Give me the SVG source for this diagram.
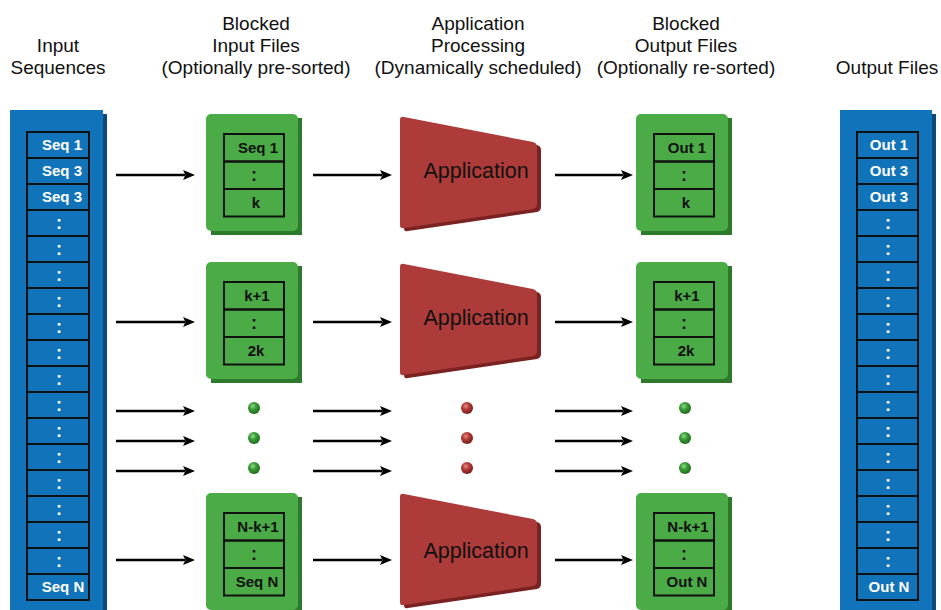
<svg xmlns="http://www.w3.org/2000/svg" width="941" height="610" viewBox="0 0 941 610">
<defs>
<style>
.hdr{font-family:"Liberation Sans",Arial,sans-serif;font-size:19px;fill:#111;text-anchor:middle}
.cw{font-family:"Liberation Sans",Arial,sans-serif;font-size:15px;font-weight:bold;fill:#fff;text-anchor:middle}
.cb{font-family:"Liberation Sans",Arial,sans-serif;font-size:15px;font-weight:bold;fill:#111;text-anchor:middle}
.col{font-size:18px}
.app{font-family:"Liberation Sans",Arial,sans-serif;font-size:21.5px;fill:#111;text-anchor:middle}
.cell{fill:none;stroke:#111;stroke-width:2}
.panel{fill:#1173ba}
.panelsh{fill:#0b4a7a}
.gbody{fill:#4bab46}
.gsh{fill:#2c7a2a}
.rbody{fill:#ad3b3a}
.rsh{fill:#7a2222}
.arr{stroke:#000;stroke-width:2.5;fill:none;marker-end:url(#ah)}
</style>
<marker id="ah" markerUnits="userSpaceOnUse" viewBox="0 0 12 10" markerWidth="12" markerHeight="10" refX="2" refY="5" orient="auto">
<path d="M0,0 L12,5 L0,10 L2.5,5 Z" fill="#000"/>
</marker>
<radialGradient id="gg" cx="0.4" cy="0.35" r="0.65">
<stop offset="0" stop-color="#8edc86"/>
<stop offset="0.45" stop-color="#3a9b36"/>
<stop offset="1" stop-color="#1f6a1d"/>
</radialGradient>
<radialGradient id="rg" cx="0.4" cy="0.35" r="0.65">
<stop offset="0" stop-color="#e88a86"/>
<stop offset="0.45" stop-color="#b23a36"/>
<stop offset="1" stop-color="#7a1e1c"/>
</radialGradient>
<g id="gblock">
<path class="gsh" d="M5,4 L96,4 L96,121 L5,121 Z"/>
<rect class="gbody" x="0" y="0" width="92" height="117" rx="5"/>
<rect class="cell" x="18" y="20" width="60" height="27.5"/>
<rect class="cell" x="18" y="47.5" width="60" height="27.5"/>
<rect class="cell" x="18" y="75" width="60" height="27.5"/>
</g>
<g id="appshape">
<path class="rsh" d="M4,7 Q4,3 8,4 L137,29 Q141,30 141,34 L141,91 Q141,95 137,96 L8,115 Q4,116 4,112 Z"/>
<path class="rbody" d="M0,4 Q0,0 4,1 L133,26 Q137,27 137,31 L137,88 Q137,92 133,93 L4,112 Q0,113 0,109 Z"/>
</g>
</defs>
<rect width="941" height="610" fill="#fff"/>

<g id="headers">
<text class="hdr" x="58" y="52">Input</text>
<text class="hdr" x="58" y="74">Sequences</text>
<text class="hdr" x="256" y="30">Blocked</text>
<text class="hdr" x="256" y="52">Input Files</text>
<text class="hdr" x="256" y="74">(Optionally pre-sorted)</text>
<text class="hdr" x="478" y="30">Application</text>
<text class="hdr" x="478" y="52">Processing</text>
<text class="hdr" x="478" y="74">(Dynamically scheduled)</text>
<text class="hdr" x="686" y="30">Blocked</text>
<text class="hdr" x="686" y="52">Output Files</text>
<text class="hdr" x="686" y="74">(Optionally re-sorted)</text>
<text class="hdr" x="887" y="74">Output Files</text>
</g>

<g id="input-sequences">
<rect class="panelsh" x="14" y="114" width="93" height="500"/>
<rect class="panel" x="10" y="110" width="93" height="505"/>
<g class="cells">
<rect class="cell" x="27" y="132" width="62" height="26"/>
<rect class="cell" x="27" y="158" width="62" height="26"/>
<rect class="cell" x="27" y="184" width="62" height="26"/>
<rect class="cell" x="27" y="210" width="62" height="26"/>
<rect class="cell" x="27" y="236" width="62" height="26"/>
<rect class="cell" x="27" y="262" width="62" height="26"/>
<rect class="cell" x="27" y="288" width="62" height="26"/>
<rect class="cell" x="27" y="314" width="62" height="26"/>
<rect class="cell" x="27" y="340" width="62" height="26"/>
<rect class="cell" x="27" y="366" width="62" height="26"/>
<rect class="cell" x="27" y="392" width="62" height="26"/>
<rect class="cell" x="27" y="418" width="62" height="26"/>
<rect class="cell" x="27" y="444" width="62" height="26"/>
<rect class="cell" x="27" y="470" width="62" height="26"/>
<rect class="cell" x="27" y="496" width="62" height="26"/>
<rect class="cell" x="27" y="522" width="62" height="26"/>
<rect class="cell" x="27" y="548" width="62" height="26"/>
<rect class="cell" x="27" y="574" width="62" height="26"/>
</g>
<text class="cw" x="62" y="150">Seq 1</text>
<text class="cw" x="62" y="176">Seq 3</text>
<text class="cw" x="62" y="202">Seq 3</text>
<text class="cw col" x="59" y="229">:</text>
<text class="cw col" x="59" y="255">:</text>
<text class="cw col" x="59" y="281">:</text>
<text class="cw col" x="59" y="307">:</text>
<text class="cw col" x="59" y="333">:</text>
<text class="cw col" x="59" y="359">:</text>
<text class="cw col" x="59" y="385">:</text>
<text class="cw col" x="59" y="411">:</text>
<text class="cw col" x="59" y="437">:</text>
<text class="cw col" x="59" y="463">:</text>
<text class="cw col" x="59" y="489">:</text>
<text class="cw col" x="59" y="515">:</text>
<text class="cw col" x="59" y="541">:</text>
<text class="cw col" x="59" y="567">:</text>
<text class="cw" x="63" y="592">Seq N</text>
</g>

<g id="output-files">
<rect class="panelsh" x="844" y="114" width="92" height="500"/>
<rect class="panel" x="840" y="110" width="92" height="505"/>
<g class="cells">
<rect class="cell" x="857" y="132" width="61" height="26"/>
<rect class="cell" x="857" y="158" width="61" height="26"/>
<rect class="cell" x="857" y="184" width="61" height="26"/>
<rect class="cell" x="857" y="210" width="61" height="26"/>
<rect class="cell" x="857" y="236" width="61" height="26"/>
<rect class="cell" x="857" y="262" width="61" height="26"/>
<rect class="cell" x="857" y="288" width="61" height="26"/>
<rect class="cell" x="857" y="314" width="61" height="26"/>
<rect class="cell" x="857" y="340" width="61" height="26"/>
<rect class="cell" x="857" y="366" width="61" height="26"/>
<rect class="cell" x="857" y="392" width="61" height="26"/>
<rect class="cell" x="857" y="418" width="61" height="26"/>
<rect class="cell" x="857" y="444" width="61" height="26"/>
<rect class="cell" x="857" y="470" width="61" height="26"/>
<rect class="cell" x="857" y="496" width="61" height="26"/>
<rect class="cell" x="857" y="522" width="61" height="26"/>
<rect class="cell" x="857" y="548" width="61" height="26"/>
<rect class="cell" x="857" y="574" width="61" height="26"/>
</g>
<text class="cw" x="889" y="150">Out 1</text>
<text class="cw" x="889" y="176">Out 3</text>
<text class="cw" x="889" y="202">Out 3</text>
<text class="cw col" x="888" y="229">:</text>
<text class="cw col" x="888" y="255">:</text>
<text class="cw col" x="888" y="281">:</text>
<text class="cw col" x="888" y="307">:</text>
<text class="cw col" x="888" y="333">:</text>
<text class="cw col" x="888" y="359">:</text>
<text class="cw col" x="888" y="385">:</text>
<text class="cw col" x="888" y="411">:</text>
<text class="cw col" x="888" y="437">:</text>
<text class="cw col" x="888" y="463">:</text>
<text class="cw col" x="888" y="489">:</text>
<text class="cw col" x="888" y="515">:</text>
<text class="cw col" x="888" y="541">:</text>
<text class="cw col" x="888" y="567">:</text>
<text class="cw" x="889" y="592">Out N</text>
</g>

<g id="in-block-1" transform="translate(206,114)">
<use href="#gblock"/>
<text class="cb" x="52" y="39">Seq 1</text>
<text class="cb col" x="48" y="67">:</text>
<text class="cb" x="50" y="94">k</text>
</g>
<g id="in-block-2" transform="translate(206,262)">
<use href="#gblock"/>
<text class="cb" x="51" y="39">k+1</text>
<text class="cb col" x="48" y="67">:</text>
<text class="cb" x="50" y="94">2k</text>
</g>
<g id="in-block-3" transform="translate(206,493)">
<use href="#gblock"/>
<text class="cb" x="52" y="39">N-k+1</text>
<text class="cb col" x="48" y="67">:</text>
<text class="cb" x="51" y="94">Seq N</text>
</g>

<g id="app-1" transform="translate(400,116)">
<use href="#appshape"/>
<text class="app" x="76" y="62">Application</text>
</g>
<g id="app-2" transform="translate(400,263)">
<use href="#appshape"/>
<text class="app" x="76" y="62">Application</text>
</g>
<g id="app-3" transform="translate(400,493)">
<use href="#appshape"/>
<text class="app" x="76" y="65">Application</text>
</g>

<g id="out-block-1" transform="translate(636,114)">
<use href="#gblock"/>
<text class="cb" x="51" y="39">Out 1</text>
<text class="cb col" x="48" y="67">:</text>
<text class="cb" x="50" y="94">k</text>
</g>
<g id="out-block-2" transform="translate(636,262)">
<use href="#gblock"/>
<text class="cb" x="51" y="39">k+1</text>
<text class="cb col" x="48" y="67">:</text>
<text class="cb" x="50" y="94">2k</text>
</g>
<g id="out-block-3" transform="translate(636,493)">
<use href="#gblock"/>
<text class="cb" x="52" y="39">N-k+1</text>
<text class="cb col" x="48" y="67">:</text>
<text class="cb" x="51" y="94">Out N</text>
</g>

<g id="dots">
<circle cx="254" cy="408" r="6" fill="url(#gg)"/>
<circle cx="254" cy="438" r="6" fill="url(#gg)"/>
<circle cx="254" cy="468" r="6" fill="url(#gg)"/>
<circle cx="467" cy="408" r="6" fill="url(#rg)"/>
<circle cx="467" cy="438" r="6" fill="url(#rg)"/>
<circle cx="467" cy="468" r="6" fill="url(#rg)"/>
<circle cx="685" cy="408" r="6" fill="url(#gg)"/>
<circle cx="685" cy="438" r="6" fill="url(#gg)"/>
<circle cx="685" cy="468" r="6" fill="url(#gg)"/>
</g>

<g id="connectors">
<line class="arr" x1="116" y1="175" x2="185" y2="175"/>
<line class="arr" x1="313" y1="175" x2="382" y2="175"/>
<line class="arr" x1="555" y1="175" x2="623" y2="175"/>
<line class="arr" x1="116" y1="322" x2="185" y2="322"/>
<line class="arr" x1="313" y1="322" x2="382" y2="322"/>
<line class="arr" x1="555" y1="322" x2="623" y2="322"/>
<line class="arr" x1="116" y1="411" x2="185" y2="411"/>
<line class="arr" x1="313" y1="411" x2="382" y2="411"/>
<line class="arr" x1="555" y1="411" x2="623" y2="411"/>
<line class="arr" x1="116" y1="441" x2="185" y2="441"/>
<line class="arr" x1="313" y1="441" x2="382" y2="441"/>
<line class="arr" x1="555" y1="441" x2="623" y2="441"/>
<line class="arr" x1="116" y1="471" x2="185" y2="471"/>
<line class="arr" x1="313" y1="471" x2="382" y2="471"/>
<line class="arr" x1="555" y1="471" x2="623" y2="471"/>
<line class="arr" x1="116" y1="560" x2="185" y2="560"/>
<line class="arr" x1="313" y1="560" x2="382" y2="560"/>
<line class="arr" x1="555" y1="560" x2="623" y2="560"/>
</g>
</svg>
